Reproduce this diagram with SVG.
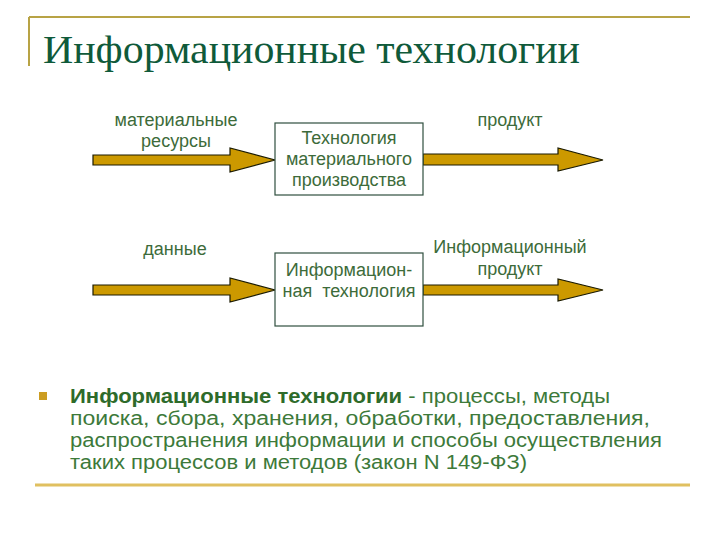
<svg xmlns="http://www.w3.org/2000/svg" width="720" height="540" viewBox="0 0 720 540">
<defs>
<style>
.lbl{font-family:"Liberation Sans",Arial,sans-serif;font-size:18px;fill:#3d6b3a;text-anchor:middle}
.box{fill:#ffffff;stroke:#2f4f3f;stroke-width:1.2}
.arr{fill:#cc9900;stroke:#1a1a00;stroke-width:1.2}
.body{font-family:"Liberation Sans",Arial,sans-serif;font-size:20px;fill:#3d7a3a}
</style>
</defs>
<rect width="720" height="540" fill="#ffffff"/>
<g id="frame">
<line x1="29" y1="17" x2="690" y2="17" stroke="#b8a345" stroke-width="2"/>
<line x1="29" y1="17" x2="29" y2="66" stroke="#b8a345" stroke-width="2"/>
<line x1="35" y1="485" x2="690" y2="485" stroke="#e0c060" stroke-width="3"/>
</g>
<g id="title">
<text x="43" y="63" font-family="'Liberation Serif','Times New Roman',serif" font-size="40" fill="#0f5a3a" textLength="537" lengthAdjust="spacingAndGlyphs">Информационные технологии</text>
</g>
<g id="connectors">
<polygon class="arr" points="93,155 230,155 230,148 275,160 230,172 230,165 93,165"/>
<polygon class="arr" points="423,154 558,154 558,148 603,160 558,171 558,165 423,165"/>
<polygon class="arr" points="93,285 230,285 230,278 275,290 230,302 230,295 93,295"/>
<polygon class="arr" points="423,285 558,285 558,279 603,290 558,301 558,295 423,295"/>
</g>
<g id="lbl-material">
<text class="lbl" x="176" y="126">материальные</text>
<text class="lbl" x="176" y="147">ресурсы</text>
</g>
<g id="lbl-product">
<text class="lbl" x="510" y="126">продукт</text>
</g>
<g id="lbl-data">
<text class="lbl" x="175" y="255">данные</text>
</g>
<g id="lbl-infoproduct">
<text class="lbl" x="510" y="253">Информационный</text>
<text class="lbl" x="510" y="275">продукт</text>
</g>
<g id="node-material">
<rect class="box" x="275" y="123" width="148" height="72"/>
<text class="lbl" x="349" y="144">Технология</text>
<text class="lbl" x="349" y="165">материального</text>
<text class="lbl" x="349" y="186">производства</text>
</g>
<g id="node-info">
<rect class="box" x="275" y="253" width="148" height="73"/>
<text class="lbl" x="349" y="276">Информацион-</text>
<text class="lbl" x="349" y="297" xml:space="preserve">ная  технология</text>
</g>
<g id="bullet">
<rect x="39" y="392" width="8" height="8" fill="#cc9d22"/>
<text class="body" x="70" y="403" textLength="540" lengthAdjust="spacingAndGlyphs"><tspan font-weight="bold" fill="#2e6b2a">Информационные технологии</tspan> - процессы, методы</text>
<text class="body" x="70" y="425" textLength="580" lengthAdjust="spacingAndGlyphs">поиска, сбора, хранения, обработки, предоставления,</text>
<text class="body" x="70" y="447" textLength="592" lengthAdjust="spacingAndGlyphs">распространения информации и способы осуществления</text>
<text class="body" x="70" y="469" textLength="457" lengthAdjust="spacingAndGlyphs">таких процессов и методов (закон N 149-ФЗ)</text>
</g>
</svg>
